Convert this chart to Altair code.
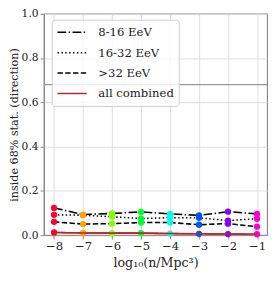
import altair as alt
import pandas as pd

x_vals = [-8, -7, -6, -5, -4, -3, -2, -1]
s_8_16 = [0.123, 0.093, 0.098, 0.105, 0.096, 0.089, 0.106, 0.096]
s_16_32 = [0.092, 0.090, 0.083, 0.075, 0.079, 0.078, 0.066, 0.074]
s_gt32 = [0.060, 0.050, 0.052, 0.057, 0.057, 0.047, 0.052, 0.038]
s_all = [0.012, 0.010, 0.009, 0.009, 0.007, 0.006, 0.005, 0.004]
series_names = ["8-16 EeV", "16-32 EeV", ">32 EeV", "all combined"]
series_colors = ["black", "black", "black", "#b8282a"]
series_dash = [[9, 2.5, 1.5, 2.5], [1.5, 2.5], [5.5, 2.5], [1, 0]]
point_colors = ["#ff0033", "#ffa200", "#7fff00", "#00ff2e", "#00ffe8", "#0052ff", "#8400ff", "#ff00c8"]
ref_level = [0.68]
y_ticks = [0.0, 0.2, 0.4, 0.6, 0.8, 1.0]

rows = []
for name, vals in zip(series_names, [s_8_16, s_16_32, s_gt32, s_all]):
    for xv, yv in zip(x_vals, vals):
        rows.append({"x": xv, "y": yv, "series": name})
df = pd.DataFrame(rows)

font = "DejaVu Serif"
xs = alt.Scale(domain=[-8.35, -0.65], nice=False, zero=False)
ys = alt.Scale(domain=[0, 1], nice=False)

legend = alt.Legend(title=None, orient="none", legendX=8, legendY=6,
                    symbolType="stroke", symbolSize=900, symbolStrokeWidth=1.6,
                    clipHeight=16, rowPadding=5, labelOffset=11,
                    labelFont=font, labelFontSize=12, labelColor="#222",
                    fillColor="rgba(255,255,255,0.8)", strokeColor="#cccccc",
                    padding=5, cornerRadius=3, labelLimit=200)

x_axis = alt.Axis(values=x_vals, format="d", title="log₁₀(n/Mpc³)", grid=True, labelOverlap=False)
y_axis = alt.Axis(values=y_ticks, format=".1f", title="inside 68% stat. (direction)", grid=True)

ref = alt.Chart(pd.DataFrame({"y": ref_level})).mark_rule(color="#999999", strokeWidth=1.2).encode(
    y=alt.Y("y:Q", scale=ys, axis=y_axis)
)

lines = alt.Chart(df).mark_line(strokeWidth=1.6).encode(
    x=alt.X("x:Q", scale=xs, axis=x_axis),
    y=alt.Y("y:Q", scale=ys, axis=y_axis),
    color=alt.Color("series:N", scale=alt.Scale(domain=series_names, range=series_colors),
                    legend=legend),
    strokeDash=alt.StrokeDash("series:N", scale=alt.Scale(domain=series_names, range=series_dash),
                              legend=legend),
    detail="series:N",
)

points = alt.Chart(df).mark_point(filled=True, size=42, opacity=1).encode(
    x=alt.X("x:Q", scale=xs, axis=x_axis),
    y=alt.Y("y:Q", scale=ys, axis=y_axis),
    fill=alt.Fill("x:O", scale=alt.Scale(domain=x_vals, range=point_colors), legend=None),
)

red_line = alt.Chart(df[df.series == "all combined"]).mark_line(strokeWidth=1.6, color="#b8282a").encode(
    x=alt.X("x:Q", scale=xs, axis=x_axis),
    y=alt.Y("y:Q", scale=ys, axis=y_axis),
)

chart = alt.layer(ref, lines, points, red_line).properties(
    width=230, height=228,
    autosize=alt.AutoSizeParams(type="none"),
    padding={"left": 37, "top": 2, "right": 5, "bottom": 35},
).configure_view(stroke="#888888", strokeWidth=1.2).configure_axis(
    labelFont=font, labelFontSize=11, labelColor="#222",
    titleFont=font, titleFontSize=12, titleColor="#222", titleFontWeight="normal",
    domainColor="#888888", tickColor="#888888", tickSize=4,
    gridColor="#dddddd", gridWidth=1, labelPadding=2, labelOverlap=False,
).configure_axisY(titlePadding=2, titleFontSize=11.5).configure_axisX(titlePadding=5, labelFontSize=12, titleFontSize=13)

chart.save("out.html", embed_options={"renderer": "svg", "actions": False})
